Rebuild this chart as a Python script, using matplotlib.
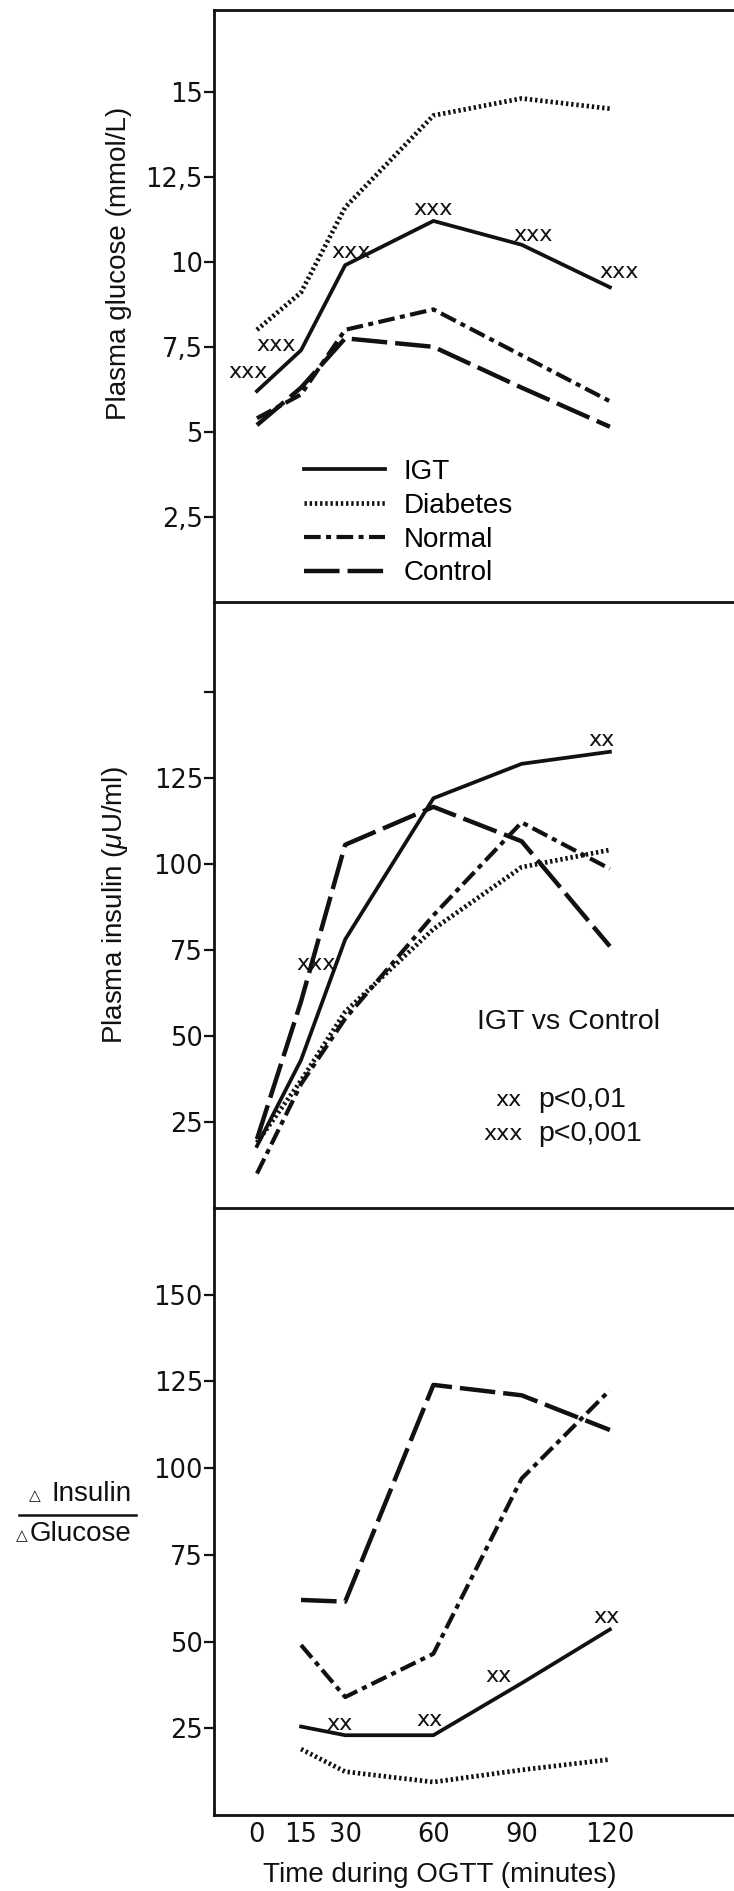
import matplotlib
matplotlib.use("Agg")
import matplotlib.pyplot as plt
from matplotlib.lines import Line2D

plt.rcParams['font.family'] = ['Liberation Sans', 'DejaVu Sans']
plt.rcParams['mathtext.fontset'] = 'custom'
plt.rcParams['mathtext.rm'] = 'Liberation Sans'
plt.rcParams['mathtext.it'] = 'Liberation Sans:italic'

# ---- data ----
time = [0, 15, 30, 60, 90, 120]
gluc_igt = [6.2, 7.4, 9.9, 11.2, 10.5, 9.25]
gluc_diab = [8.0, 9.1, 11.6, 14.3, 14.8, 14.5]
gluc_norm = [5.4, 6.1, 8.0, 8.6, 7.25, 5.9]
gluc_ctrl = [5.2, 6.3, 7.75, 7.5, 6.3, 5.15]

ins_igt = [18, 43, 78, 119, 129, 132.5]
ins_diab = [19, 37, 57, 81, 99, 104]
ins_norm = [10, 36, 55, 85, 112, 98.5]
ins_ctrl = [20, 60, 105.5, 116.5, 106.5, 76]

ratio_time = [15, 30, 60, 90, 120]
ratio_igt = [25.5, 23, 23, 38, 53.5]
ratio_diab = [19, 12.5, 9.5, 13, 16]
ratio_norm = [49, 34, 46.5, 97, 122.5]
ratio_ctrl = [62, 61.5, 124, 121, 111]

# significance marks (time, value, text)
gluc_sig = [(-3, 6.76, 'xxx'), (6.5, 7.56, 'xxx'), (32, 10.29, 'xxx'),
            (60, 11.55, 'xxx'), (94, 10.78, 'xxx'), (123, 9.7, 'xxx')]
ins_sig = [(20.2, 71, 'xxx'), (117, 135.9, 'xx')]
ratio_sig = [(28.2, 26.2, 'xx'), (58.5, 27.5, 'xx'), (82, 40, 'xx'), (119, 57, 'xx')]

groups = ['IGT', 'Diabetes', 'Normal', 'Control']

INK = '#111111'
STYLES = {
    'IGT': dict(linestyle='-', linewidth=2.7),
    'Diabetes': dict(linestyle=(0, (0.5, 0.6)), linewidth=3.4),
    'Normal': dict(linestyle=(0, (4, 1.3, 1.2, 1.3)), linewidth=3.0),
    'Control': dict(linestyle=(0, (8, 1.8)), linewidth=3.2),
}
MARK_FONT = dict(fontsize=16, family='DejaVu Sans', ha='center', va='center', color=INK)

W, H = 734, 1891
fig = plt.figure(figsize=(W / 100, H / 100), dpi=100)


def px_axes(left, top, right, bottom):
    return fig.add_axes([left / W, 1 - bottom / H, (right - left) / W, (bottom - top) / H])


ax1 = px_axes(214, 10, 734, 602)
ax2 = px_axes(214, 602, 734, 1208)
ax3 = px_axes(214, 1208, 734, 1815)

for ax in (ax1, ax2, ax3):
    ax.patch.set_visible(False)
    ax.set_xlim(-14.6, 162.2)
    for s in ax.spines.values():
        s.set_linewidth(2.0)
        s.set_color(INK)
    ax.spines['right'].set_visible(False)
    ax.tick_params(axis='y', direction='out', length=7, width=1.6, pad=1,
                   labelsize=18.5, colors=INK)

ax1.spines['bottom'].set_visible(False)
ax3.spines['top'].set_visible(False)
ax1.set_xticks([])
ax2.set_xticks([])

# panel 1 : glucose
ax1.set_ylim(0, 17.4)
ax1.set_yticks([2.5, 5, 7.5, 10, 12.5, 15])
ax1.set_yticklabels(['2,5', '5', '7,5', '10', '12,5', '15'])
for g, vals in zip(groups, [gluc_igt, gluc_diab, gluc_norm, gluc_ctrl]):
    ax1.plot(time, vals, color=INK, dash_capstyle='butt', label=g, **STYLES[g])
for x, y, t in gluc_sig:
    ax1.text(x, y, t, **MARK_FONT)
ax1.legend(loc='center left', bbox_to_anchor=(0.173, 0.134), frameon=False,
           fontsize=20, handlelength=2.9, handletextpad=0.7, labelspacing=0.28,
           borderpad=0, borderaxespad=0)

# panel 2 : insulin
ax2.set_ylim(0, 176)
ax2.set_yticks([25, 50, 75, 100, 125, 150])
ax2.set_yticklabels(['25', '50', '75', '100', '125', ''])
for g, vals in zip(groups, [ins_igt, ins_diab, ins_norm, ins_ctrl]):
    ax2.plot(time, vals, color=INK, dash_capstyle='butt', **STYLES[g])
for x, y, t in ins_sig:
    ax2.text(x, y, t, **MARK_FONT)
ax2.text(106, 54, 'IGT vs Control', fontsize=20.5, ha='center', va='center', color=INK)
ax2.text(90, 31.3, 'xx', fontsize=16, family='DejaVu Sans', ha='right', va='center', color=INK)
ax2.text(95.6, 31.3, 'p<0,01', fontsize=20.5, ha='left', va='center', color=INK)
ax2.text(90.5, 21.6, 'xxx', fontsize=16, family='DejaVu Sans', ha='right', va='center', color=INK)
ax2.text(95.6, 21.6, 'p<0,001', fontsize=20.5, ha='left', va='center', color=INK)

# panel 3 : delta insulin / delta glucose
ax3.set_ylim(0, 175)
ax3.set_yticks([25, 50, 75, 100, 125, 150])
for g, vals in zip(groups, [ratio_igt, ratio_diab, ratio_norm, ratio_ctrl]):
    ax3.plot(ratio_time, vals, color=INK, dash_capstyle='butt', **STYLES[g])
for x, y, t in ratio_sig:
    ax3.text(x, y, t, **MARK_FONT)
ax3.set_xticks(time)
ax3.tick_params(axis='x', length=0, pad=5, labelsize=18.5, colors=INK)

for lab in ax1.get_yticklabels() + ax2.get_yticklabels() + ax3.get_yticklabels() \
        + ax3.get_xticklabels():
    lab.set_family('DejaVu Sans')

# axis labels
fig.text(119 / W, 1 - 263 / H, 'Plasma glucose (mmol/L)', rotation=90,
         ha='center', va='center', fontsize=20, color=INK)
fig.text(115 / W, 1 - 905 / H, r'Plasma insulin ($\mu$U/ml)', rotation=90,
         ha='center', va='center', fontsize=20, color=INK)
fig.text(440 / W, 1 - 1875 / H, 'Time during OGTT (minutes)',
         ha='center', va='center', fontsize=20, color=INK)

fig.text(35 / W, 1 - 1496 / H, '\u25b3', ha='center', va='center', fontsize=11,
         family='DejaVu Sans', color=INK)
fig.text(51 / W, 1 - 1494 / H, 'Insulin', ha='left', va='center', fontsize=20, color=INK)
fig.text(22 / W, 1 - 1536 / H, '\u25b3', ha='center', va='center', fontsize=11,
         family='DejaVu Sans', color=INK)
fig.text(30 / W, 1 - 1534 / H, 'Glucose', ha='left', va='center', fontsize=20, color=INK)
fig.add_artist(Line2D([19 / W, 136 / W], [1 - 1515 / H, 1 - 1515 / H],
                      transform=fig.transFigure, color=INK, linewidth=1.8))

fig.savefig('out.png', dpi=100)
